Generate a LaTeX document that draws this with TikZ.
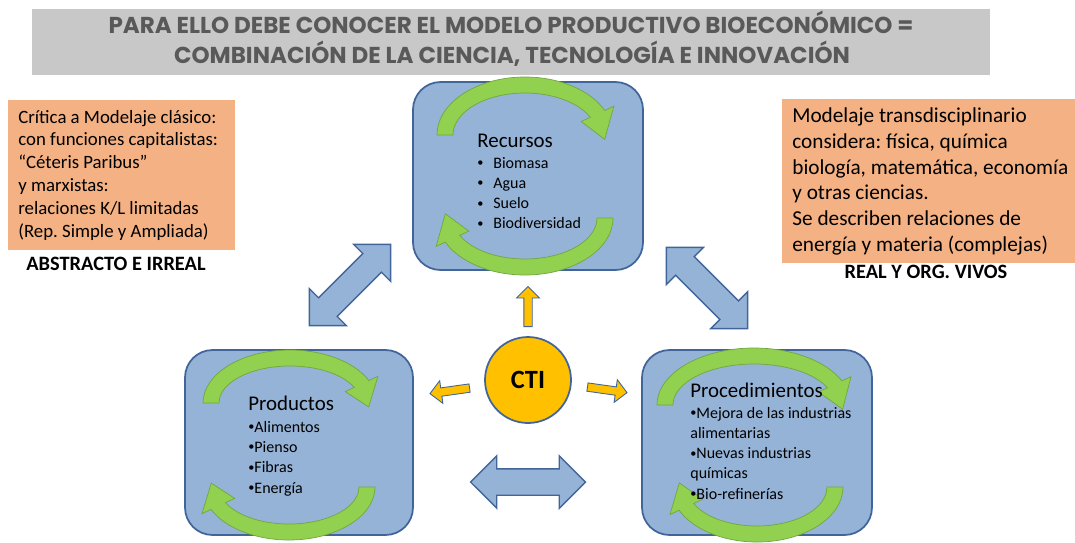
\documentclass[tikz,border=0pt]{standalone}
\usepackage{fontspec}
\setmainfont{Carlito}
\newfontfamily\titlefont{Poppins}
\usetikzlibrary{calc,shapes.arrows}
\frenchspacing

\definecolor{stagefill}{HTML}{95B3D7}
\definecolor{stageline}{HTML}{41659A}
\definecolor{cyclefill}{HTML}{92D050}
\definecolor{cycleline}{HTML}{72A63E}
\definecolor{notefill}{HTML}{F4B183}
\definecolor{headfill}{HTML}{C8C8C8}
\definecolor{headtext}{HTML}{595959}
\definecolor{ctifill}{HTML}{FFC000}

\newcommand{\bul}{\raisebox{0.2ex}{\fontsize{7}{7}\selectfont•}}
\newcommand{\turnarc}[6]{%
  \filldraw[turn] ($(#1,#2)+(#5:#3 and #4)$)
    arc[start angle=#5, end angle=#6, x radius=#3, y radius=#4]
    -- ($(#1,#2)+(#6:#3+10 and #4+10)$)
    -- ($(#1,#2)+(#6+30:#3-8 and #4-8)$)
    -- ($(#1,#2)+(#6:#3-26 and #4-26)$)
    -- ($(#1,#2)+(#6:#3-16 and #4-16)$)
    arc[start angle=#6, end angle=#5, x radius=#3-16, y radius=#4-16] -- cycle;}

\begin{document}
\begin{tikzpicture}[x=0.02cm, y=-0.02cm,
  stage/.style={draw=stageline, line width=1pt, fill=stagefill, rounded corners=0.55cm, minimum width=4.6cm, minimum height=3.7cm},
  note/.style={fill=notefill, inner sep=0},
  link/.style={double arrow, draw=stageline, fill=stagefill, line width=0.8pt, minimum height=2.3cm, inner xsep=0, inner ysep=0.25cm, double arrow head extend=0.26cm},
  push/.style={single arrow, draw=stageline, fill=ctifill, line width=0.5pt, minimum height=0.8cm, inner xsep=0, inner ysep=0.075cm, single arrow head extend=0.145cm, anchor=tail},
  turn/.style={fill=cyclefill, draw=cycleline, line width=0.4pt},
  label/.style={anchor=base west, inner sep=0, font=\fontsize{11.9}{14}\selectfont},
  item/.style={anchor=base west, inner sep=0, font=\fontsize{9.1}{11}\selectfont},
  caption/.style={anchor=base, inner sep=0, font=\bfseries\fontsize{11.6}{14}\selectfont},
  headline/.style={anchor=base, inner sep=0, text=headtext, font=\titlefont\bfseries\fontsize{13.1}{15}\selectfont}]
\useasboundingbox (0,0) rectangle (1075,542);

\node[fill=headfill, minimum width=19.16cm, minimum height=1.32cm] (head) at (511,42) {};
\node[headline] (head1) at (511,33) {PARA ELLO DEBE CONOCER EL MODELO PRODUCTIVO BIOECONÓMICO =};
\node[headline] (head2) at (512,63) {COMBINACIÓN DE LA CIENCIA, TECNOLOGÍA E INNOVACIÓN};

\node[note, minimum width=4.54cm, minimum height=3cm] (crit) at (121.5,175) {};
\foreach \t [count=\i from 0] in {Crítica a Modelaje clásico:, con funciones capitalistas:, “Céteris Paribus”, y marxistas:, relaciones K/L limitadas, (Rep. Simple y Ampliada)}
  \node[anchor=base west, inner sep=0, font=\fontsize{10.7}{13}\selectfont] at (18,{123+22.8*\i}) {\t};
\node[caption] (abs) at (116,270) {ABSTRACTO E IRREAL};

\node[note, minimum width=5.86cm, minimum height=3.28cm] (trans) at (928.5,181) {};
\foreach \t [count=\i from 0] in {Modelaje transdisciplinario, {considera: física, química}, {biología, matemática, economía}, y otras ciencias., Se describen relaciones de, energía y materia (complejas)}
  \node[anchor=base west, inner sep=0, font=\fontsize{12.1}{14}\selectfont] at (792,{122.5+25.8*\i}) {\t};
\node[caption] (real) at (926,278) {REAL Y ORG. VIVOS};

\node[stage, minimum height=3.76cm] (rec) at (528,176) {};
\node[stage, minimum width=4.56cm] (prod) at (299,442.5) {};
\node[stage] (proc) at (757,442.5) {};

\turnarc{525}{135}{88}{58}{180}{335}
\turnarc{525}{218}{88}{57}{0}{155}
\turnarc{290}{403}{87}{53}{180}{335}
\turnarc{289}{487}{86}{53}{0}{155}
\turnarc{754}{405}{97}{57}{180}{335}
\turnarc{757}{487}{86}{55}{0}{155}

\node[label] (rect) at (477,147) {Recursos};
\foreach \t [count=\i from 0] in {Biomasa,Agua,Suelo,Biodiversidad}{
  \node[item] at (477,{168+20.3*\i}) {\bul};
  \node[item] at (493,{168+20.3*\i}) {\t};}
\node[label] (prodt) at (248,410) {Productos};
\foreach \t [count=\i from 0] in {Alimentos,Pienso,Fibras,Energía}
  \node[item] at (248,{432+20.4*\i}) {\bul\t};
\node[label] (proct) at (690,397) {Procedimientos};
\foreach \t [count=\i from 0] in {\bul Mejora de las industrias, alimentarias, \bul Nuevas industrias, químicas, \bul Bio-refinerías}
  \node[item] at (690,{418+20.3*\i}) {\t};

\node[link, rotate=45] (recprod) at (350,285) {};
\node[link, rotate=-45] (recproc) at (707,288) {};
\node[link] (prodproc) at (528,482) {};

\node[circle, draw=stageline, line width=1pt, fill=ctifill, minimum size=1.72cm, font=\bfseries\fontsize{15}{18}\selectfont] (cti) at (528,380) {CTI};
\node[push, rotate=90] (up) at ($(cti)+(0,-53)$) {};
\node[push, rotate=188] (left) at ($(cti)+(-58,8)$) {};
\node[push, rotate=-8] (right) at ($(cti)+(59,7)$) {};
\end{tikzpicture}
\end{document}
